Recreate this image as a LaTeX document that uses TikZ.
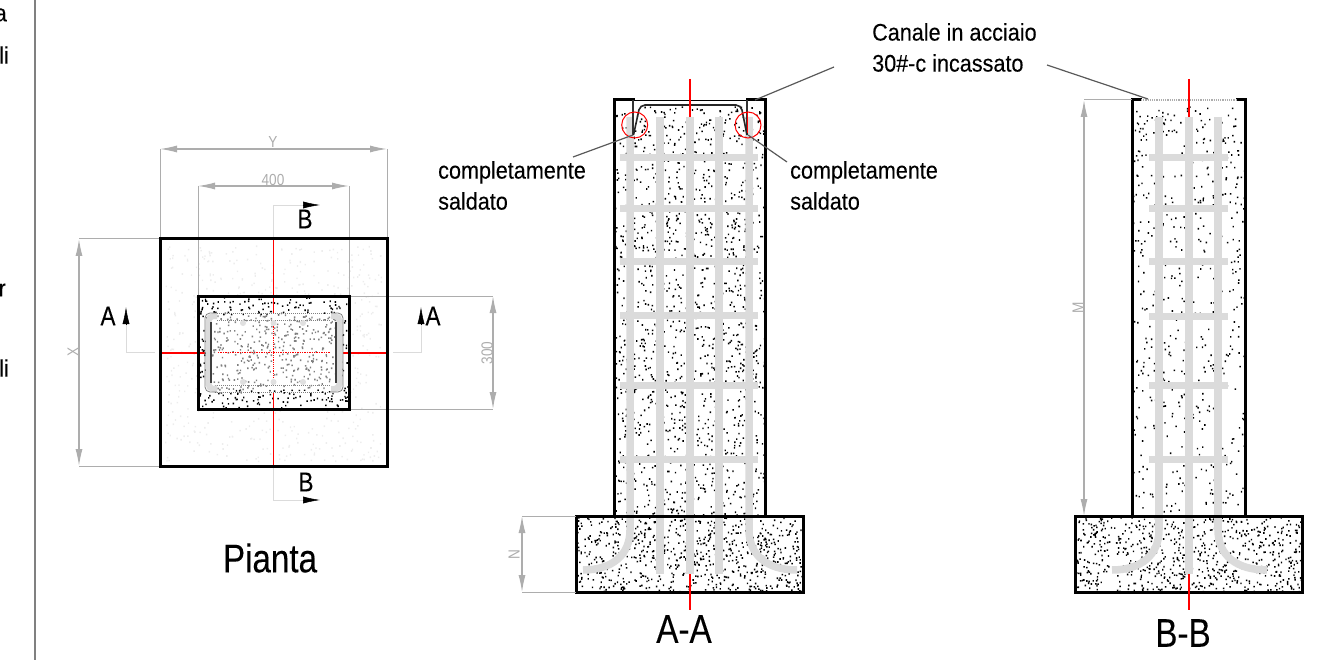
\documentclass[tikz,border=0pt]{standalone}
\usepackage{fontspec}
\setmainfont[FakeStretch=0.9,FakeBold=0.15]{Liberation Sans}
\newfontfamily\titlefont[FakeStretch=0.83,FakeBold=0.15]{Liberation Sans}
\newfontfamily\dimfont[FakeStretch=0.85]{Liberation Sans}
\usetikzlibrary{arrows.meta}
\definecolor{dimgray}{gray}{0.68}
\definecolor{bargray}{gray}{0.86}
\definecolor{leadgray}{gray}{0.35}
\newcommand{\stipple}[6][black]{
    \fill[#1] foreach \i in {1,...,#6} {({#2+rnd*(#4-#2)},{#3+rnd*(#5-#3)}) rectangle ++(1.4,1.6)};
}
\tikzset{
    outline/.style={line width=3pt, line cap=rect},
    dimline/.style={draw=dimgray, line width=1.2pt, {Latex[length=17pt,width=7pt]}-{Latex[length=17pt,width=7pt]}},
    extline/.style={draw=dimgray, line width=1pt},
    dimtext/.style={text=dimgray, font=\dimfont\fontsize{16}{16}\selectfont, inner sep=0pt},
    secline/.style={draw=bargray, line width=0.8pt},
    secarrow/.style={line width=0.5pt, -{Latex[length=17pt,width=7pt]}},
    secname/.style={font=\titlefont\fontsize{27}{27}\selectfont, inner sep=0pt},
    title/.style={font=\titlefont\fontsize{40}{40}\selectfont, inner sep=0pt},
    note/.style={font=\fontsize{24}{31}\selectfont, align=left, anchor=west, inner sep=0pt},
    leader/.style={draw=leadgray, line width=1.2pt},
    bar/.style={draw=bargray, line width=7.5pt},
    cut/.style={draw=red, line width=1.9pt},
    weld/.style={draw=red, line width=1pt},
}
\begin{document}
\begin{tikzpicture}[x=1pt, y=-1pt]
    \useasboundingbox (0,0) rectangle (1335,660);
    \pgfmathsetseed{11}
    % cut-off text and margin rule
    \draw[draw=gray, line width=1.4pt] (35,0) -- (35,660);
    \node[note, anchor=east] (edgea) at (7,15) {a};
    \node[note, anchor=east] (edgeb) at (9,55) {li};
    \node[note, anchor=east] (edgec) at (6,290) {r};
    \node[note, anchor=east] (edged) at (9,368) {li};

    % plan
    \stipple[black!7]{165}{245}{382}{461}{700}
    \fill[white] (198,296) rectangle (349,409);
    \stipple{199}{297}{348}{408}{620}
    \fill[white, opacity=0.5] (207,315) rectangle (341,390);
    \coordinate (pa) at (160,149);
    \coordinate (pb) at (387,149);
    \coordinate (pc) at (198,186);
    \coordinate (pd) at (349,186);
    \coordinate (pe) at (79,239);
    \coordinate (pf) at (79,466);
    \coordinate (pg) at (493,296);
    \coordinate (ph) at (493,409);
    \draw[extline] (pa) -- (160,239);
    \draw[extline] (pb) -- (387,239);
    \draw[extline] (pc) -- (198,296);
    \draw[extline] (pd) -- (349,296);
    \draw[extline] (pe) -- (160,239);
    \draw[extline] (pf) -- (160,466);
    \draw[extline] (349,296) -- (pg);
    \draw[extline] (349,409) -- (ph);
    \draw[dimline] (pa) -- (pb);
    \draw[dimline] (pc) -- (pd);
    \draw[dimline] (pe) -- (pf);
    \draw[dimline] (pg) -- (ph);
    \node[dimtext] (ytext) at (273,142) {Y};
    \node[dimtext] (wtext) at (273,180) {400};
    \node[dimtext, rotate=90] (xtext) at (73,352) {X};
    \node[dimtext, rotate=90] (htext) at (487,353) {300};

    % section marks on the plan
    \draw[secline] (126,323) -- (126,352.7) -- (155,352.7);
    \draw[secline] (421,323) -- (421,352.7) -- (393,352.7);
    \draw[secline] (303,205) -- (273.5,205) -- (273.5,239);
    \draw[secline] (273.5,466) -- (273.5,500) -- (303,500);
    \coordinate (aa) at (126,324);
    \coordinate (ab) at (126,307);
    \coordinate (ac) at (421,324);
    \coordinate (ad) at (421,307);
    \coordinate (ae) at (303,205);
    \coordinate (af) at (320,205);
    \coordinate (ag) at (303,500);
    \coordinate (ah) at (320,500);
    \draw[secarrow] (aa) -- (ab);
    \draw[secarrow] (ac) -- (ad);
    \draw[secarrow] (ae) -- (af);
    \draw[secarrow] (ag) -- (ah);
    \node[secname] (ala) at (108,316) {A};
    \node[secname] (alb) at (433,316) {A};
    \node[secname] (bla) at (305,219) {B};
    \node[secname] (blb) at (306,482) {B};

    % channel in the plan
    \draw[cut] (161,352.7) -- (205,352.7);
    \draw[cut] (343,352.7) -- (386,352.7);
    \draw[cut] (273.5,240) -- (273.5,313);
    \draw[cut] (273.5,392) -- (273.5,465);
    \draw[red, line width=1.4pt, densely dotted] (218,352.7) -- (330,352.7);
    \draw[red, line width=1.2pt, densely dotted] (273.5,322) -- (273.5,378);
    \draw[draw=bargray, line width=6pt, rounded corners=5pt] (217,316) -- (208.5,316) -- (208.5,389) -- (217,389);
    \draw[draw=bargray, line width=6pt, rounded corners=5pt] (331,316) -- (339.5,316) -- (339.5,389) -- (331,389);
    \draw[draw=gray, line width=0.8pt, rounded corners=5pt] (217,313) -- (205,313) -- (205,392) -- (217,392);
    \draw[draw=gray, line width=0.8pt, rounded corners=5pt] (331,313) -- (343,313) -- (343,392) -- (331,392);
    \draw[black!75, line width=1.1pt] (211,322) -- (211,383);
    \draw[black!75, line width=1.1pt] (336,322) -- (336,383);
    \foreach \py in {313,320,385,392} {
        \draw[draw=gray, line width=1pt, densely dotted] (217,\py) -- (331,\py);
    }
    \foreach \px in {243,273.5,303} {
        \fill[black!12] (\px,323) circle (3);
        \fill[black!12] (\px,382) circle (3);
    }
    \draw[outline] (160,239) rectangle (387,466);
    \draw[outline] (198,296) rectangle (349,409);
    \node[title] (pianta) at (270,558) {Pianta};

    % section A-A
    \stipple{615}{106}{764}{516}{1500}
    \stipple{577}{517}{802}{591}{720}
    \fill[white] (633,101) rectangle (747,105);
    \foreach \px in {660,690,719} {
        \draw[bar] (\px,117) -- (\px,574);
    }
    \draw[bar] (630,117) -- (630,530) .. controls (630,555) and (612,570) .. (583,570);
    \draw[bar] (749,117) -- (749,530) .. controls (749,555) and (767,570) .. (797,570);
    \foreach \py in {158,209,262,315,385,459} {
        \draw[bar, line width=7pt] (620,\py) -- (758,\py);
    }
    \draw[outline] (614,100) -- (614,516);
    \draw[outline] (765,100) -- (765,516);
    \draw[outline] (614,100) -- (633,100);
    \draw[outline] (747,100) -- (765,100);
    \draw[draw=black, line width=0.6pt] (633,100) -- (747,100);
    \draw[outline] (576,516) rectangle (803,592);
    \draw[black!80, line width=1.2pt] (633,100) -- (633,135);
    \draw[black!80, line width=1.2pt] (747,100) -- (747,135);
    \draw[black!85, line width=1.6pt, rounded corners=5pt] (633.5,135) -- (640,105) -- (741,105) -- (747,135);
    \draw[cut] (690,79) -- (690,117);
    \draw[cut] (690,574) -- (690,610);
    \draw[red, line width=1pt] (747.5,112) -- (747.5,133);
    \node[weld, draw, circle, minimum size=26pt, inner sep=0pt] (weldl) at (634.7,125) {};
    \node[weld, draw, circle, minimum size=26pt, inner sep=0pt] (weldr) at (748,125) {};
    \node[title] (titlea) at (684,629) {A-A};

    % dimension N
    \coordinate (na) at (522,516);
    \coordinate (nb) at (522,592);
    \draw[extline] (na) -- (576,516);
    \draw[extline] (nb) -- (576,592);
    \draw[dimline] (na) -- (nb);
    \node[dimtext, rotate=90] (ntext) at (514,555) {N};

    % section B-B
    \stipple{1133}{106}{1244}{516}{560}
    \stipple{1076}{517}{1301}{591}{720}
    \foreach \px in {1159,1218} {
        \draw[bar] (\px,117) -- (\px,530);
    }
    \draw[bar] (1189,117) -- (1189,574);
    \draw[bar] (1159,530) .. controls (1159,555) and (1141,570) .. (1112,570);
    \draw[bar] (1218,530) .. controls (1218,555) and (1236,570) .. (1267,570);
    \foreach \py in {158,209,262,316,385,459} {
        \draw[bar, line width=7pt] (1149,\py) -- (1228,\py);
    }
    \draw[outline] (1132,100) -- (1132,516);
    \draw[outline] (1245,100) -- (1245,516);
    \draw[outline] (1132,100) -- (1140,100);
    \draw[outline] (1237,100) -- (1245,100);
    \draw[draw=dimgray, line width=1.2pt, densely dotted] (1141,100) -- (1236,100);
    \draw[outline] (1075,516) rectangle (1302,592);
    \draw[cut] (1189,79) -- (1189,117);
    \draw[cut] (1189,574) -- (1189,610);
    \node[title] (titleb) at (1183,633) {B-B};

    % dimension M
    \coordinate (ma) at (1084,100);
    \coordinate (mb) at (1084,516);
    \draw[extline] (ma) -- (1132,100);
    \draw[dimline] (ma) -- (mb);
    \node[dimtext, rotate=90] (mtext) at (1078,308) {M};

    % notes
    \node[note] (notel) at (438,185.5) {completamente\\saldato};
    \node[note] (noter) at (790,185.5) {completamente\\saldato};
    \node[note] (notec) at (872,47.5) {Canale in acciaio\\30\#-c incassato};
    \coordinate (la) at (573,157);
    \coordinate (lb) at (633,135);
    \coordinate (lc) at (787,162);
    \coordinate (ld) at (748,135);
    \coordinate (le) at (834,67);
    \coordinate (lf) at (755,100);
    \coordinate (lg) at (1047,65);
    \coordinate (lh) at (1148,99);
    \draw[leader] (la) -- (lb);
    \draw[leader] (lc) -- (ld);
    \draw[leader] (le) -- (lf);
    \draw[leader] (lg) -- (lh);
\end{tikzpicture}
\end{document}
